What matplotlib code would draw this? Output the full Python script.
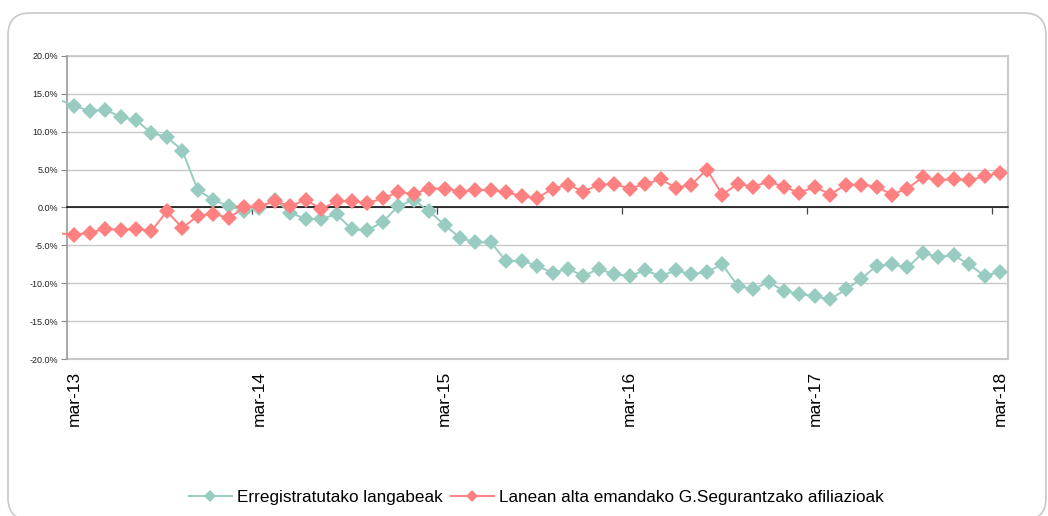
import numpy as np
import matplotlib
matplotlib.use("Agg")
import matplotlib.pyplot as plt
from matplotlib.patches import FancyBboxPatch
from matplotlib.transforms import Bbox, TransformedBbox

plt.rcParams['font.family'] = ['Liberation Sans', 'DejaVu Sans']

# monthly year-on-year change (%), feb-13 (off the left edge) .. mar-18
langabeak = [14.2,
             13.4, 12.7, 12.9, 11.9, 11.5, 9.8, 9.3, 7.5, 2.3, 1.0, 0.2, -0.4,
             -0.1, 1.0, -0.7, -1.5, -1.5, -0.9, -2.9, -3.0, -1.9, 0.2, 1.0, -0.5,
             -2.3, -4.0, -4.6, -4.6, -7.1, -7.0, -7.7, -8.6, -8.1, -9.0, -8.1, -8.8,
             -9.0, -8.3, -9.0, -8.3, -8.8, -8.5, -7.5, -10.3, -10.8, -9.8, -11.0, -11.4,
             -11.7, -12.1, -10.8, -9.4, -7.7, -7.5, -7.9, -6.0, -6.5, -6.3, -7.5, -9.0,
             -8.5]
afiliazioak = [-3.4,
               -3.6, -3.3, -2.8, -3.0, -2.8, -3.1, -0.5, -2.7, -1.1, -0.8, -1.4, 0.0,
               0.2, 0.8, 0.2, 1.0, -0.2, 0.8, 0.8, 0.6, 1.2, 2.0, 1.8, 2.5,
               2.5, 2.1, 2.3, 2.3, 2.0, 1.5, 1.2, 2.5, 3.0, 2.1, 3.0, 3.1,
               2.5, 3.1, 3.7, 2.6, 3.0, 5.0, 1.7, 3.1, 2.75, 3.4, 2.75, 1.9,
               2.75, 1.7, 3.0, 3.0, 2.75, 1.7, 2.5, 4.0, 3.6, 3.7, 3.6, 4.1,
               4.6]
x_labels = ['mar-13', 'mar-14', 'mar-15', 'mar-16', 'mar-17', 'mar-18']
series_names = ['Erregistratutako langabeak',
                'Lanean alta emandako G.Segurantzako afiliazioak']
colors = ['#99CCC0', '#FF8080']

fig = plt.figure(figsize=(10.48, 5.16), dpi=100)
ax = fig.add_axes([0.0636, 0.3037, 0.8979, 0.5884])

x = np.arange(len(langabeak)) - 1
clip = TransformedBbox(Bbox([[-0.0045, -0.01], [1.0, 1.01]]), ax.transAxes)
for vals, c, name in zip([langabeak, afiliazioak], colors, series_names):
    ln, = ax.plot(x, vals, color=c, lw=1.4, marker='D', markersize=8,
                  markeredgewidth=0, markevery=slice(1, None), label=name, zorder=3)
    ln.set_clip_box(clip)

ax.set_xlim(-0.5, len(langabeak) - 1.5)
ax.set_ylim(-20, 20)
ax.set_yticks(np.arange(-20, 21, 5))
ax.set_yticklabels([f'{v:.1f}%' for v in np.arange(-20, 21, 5)])
ax.tick_params(axis='y', labelsize=6.5, length=4, width=0.8, color='#888888',
               pad=2, labelcolor='#222222')
ax.grid(axis='y', color='#C8C8C8', lw=1)
ax.axhline(-20, color='#C8C8C8', lw=1.5, clip_on=False, zorder=1)
ax.axhline(20, color='#C8C8C8', lw=1.2, clip_on=False, zorder=1)
ax.set_axisbelow(True)

# category axis crosses at zero, ticks between categories every 12 months
ax.spines['bottom'].set_position(('data', 0))
ax.spines['bottom'].set_color('black')
ax.spines['bottom'].set_linewidth(1.1)
ax.spines['bottom'].set_zorder(2.5)
ax.set_xticks(np.arange(11.5, len(langabeak) - 1, 12))
ax.set_xticklabels([])
ax.tick_params(axis='x', length=5, width=0.9, color='#444444')
ax.spines['top'].set_visible(False)
ax.spines['left'].set_color('#999999')
ax.spines['left'].set_linewidth(1.2)
ax.spines['right'].set_color('#C8C8C8')
ax.spines['right'].set_linewidth(1.5)

sec = ax.secondary_xaxis('bottom')
sec.set_xticks(np.arange(0, len(langabeak) - 1, 12))
sec.set_xticklabels(x_labels, rotation=90, fontsize=12.5, va='top', ha='center')
sec.tick_params(length=0, pad=8)
sec.spines['bottom'].set_visible(False)

fig.legend(loc='center', bbox_to_anchor=(0.512, 0.035), ncol=2, frameon=False,
           fontsize=12.3, handlelength=2.5, handletextpad=0.33, columnspacing=0.47,
           markerscale=0.75)

fig.add_artist(FancyBboxPatch((0.08, -0.04), 10.38, 5.07,
                              boxstyle='round,pad=0,rounding_size=0.22',
                              transform=fig.dpi_scale_trans, fill=False,
                              edgecolor='#C8C8C8', lw=1.2))

fig.savefig('out.png', dpi=100)
